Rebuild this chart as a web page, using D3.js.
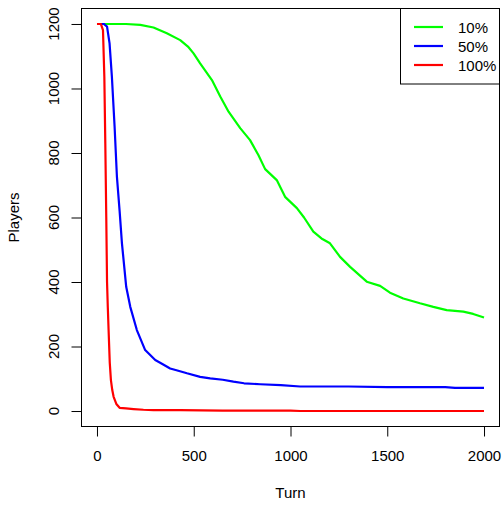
<!DOCTYPE html>
<html>
<head>
<meta charset="utf-8">
<script src="https://cdn.jsdelivr.net/npm/d3@7"></script>
<style>
  body { margin: 0; background: #fff; }
  svg text { font-family: "Liberation Sans", Arial, sans-serif; fill: #000; }
</style>
</head>
<body>
<svg id="chart" width="502" height="508"></svg>
<script>
// data: [turn, players]
var green10 = [[0,1200],[150,1200],[224,1197],[292,1189],[361,1171],[430,1150],[470,1130],[499,1109],[533,1078],[594,1026],[637,975],[680,928],[740,877],[791,840],[834,794],[869,750],[929,716],[972,664],[1033,629],[1070,600],[1118,556],[1160,535],[1204,520],[1256,478],[1308,447],[1394,401],[1463,388],[1514,367],[1583,349],[1669,334],[1738,323],[1807,313],[1893,308],[1944,301],[2000,290]];
var blue50 = [[0,1200],[35,1200],[52,1192],[65,1140],[77,1037],[91,882],[103,727],[117,620],[129,520],[151,385],[172,323],[206,251],[249,189],[301,158],[340,145],[378,132],[420,125],[465,117],[533,106],[585,101],[650,97],[705,91],[760,86],[843,83],[950,80],[1050,76],[1300,76],[1500,74],[1800,74],[1850,72],[2000,72]];
var red100 = [[0,1200],[20,1200],[31,1181],[38,1037],[43,830],[48,600],[52,400],[56,320],[60,251],[66,150],[72,96],[79,65],[86,44],[100,22],[117,10],[150,8],[189,6],[240,4],[292,3],[430,3],[650,1],[1000,1],[1050,0],[2000,0]];
var xTicks = [0, 500, 1000, 1500, 2000];
var yTicks = [0, 200, 400, 600, 800, 1000, 1200];
var seriesNames = ["10%", "50%", "100%"];
var seriesColors = ["#00ff00", "#0000ff", "#ff0000"];

var svg = d3.select("#chart");
var pLeft = 81.5, pRight = 499.5, pTop = 8.5, pBottom = 426.5;

// R style 4% padding on the ranges
var x = d3.scaleLinear().domain([-80, 2080]).range([pLeft, pRight]);
var y = d3.scaleLinear().domain([-48, 1248]).range([pBottom, pTop]);

var line = d3.line().x(function (d) { return x(d[0]); }).y(function (d) { return y(d[1]); });

[green10, blue50, red100].forEach(function (s, i) {
    svg.append("path").datum(s).attr("d", line)
        .attr("fill", "none").attr("stroke", seriesColors[i])
        .attr("stroke-width", 2.2).attr("stroke-linejoin", "round");
});

// box
svg.append("rect").attr("x", pLeft).attr("y", pTop)
    .attr("width", pRight - pLeft).attr("height", pBottom - pTop)
    .attr("fill", "none").attr("stroke", "#000").attr("stroke-width", 1);

// axes
var xAxis = d3.axisBottom(x).tickValues(xTicks).tickSize(10).tickPadding(14).tickFormat(d3.format("d"));
var gx = svg.append("g").attr("transform", "translate(0," + pBottom + ")").call(xAxis);
gx.select(".domain").attr("d", "M" + x(0) + ",0H" + x(2000)).attr("stroke", "#000");
gx.selectAll("line").attr("stroke", "#000");
gx.selectAll("text").attr("font-size", 15).attr("fill", "#000").attr("font-family", null);

var yAxis = d3.axisLeft(y).tickValues(yTicks).tickSize(10).tickFormat("");
var gy = svg.append("g").attr("transform", "translate(" + pLeft + ",0)").call(yAxis);
gy.select(".domain").attr("d", "M0," + y(0) + "V" + y(1200)).attr("stroke", "#000");
gy.selectAll("line").attr("stroke", "#000");

svg.selectAll(".ylab").data(yTicks).enter().append("text")
    .attr("transform", function (d) { return "translate(59," + y(d) + ") rotate(-90)"; })
    .attr("text-anchor", "middle").attr("font-size", 15)
    .text(function (d) { return d; });

// axis titles
svg.append("text").attr("x", (pLeft + pRight) / 2).attr("y", 498)
    .attr("text-anchor", "middle").attr("font-size", 15).text("Turn");
svg.append("text").attr("transform", "translate(19," + ((pTop + pBottom) / 2) + ") rotate(-90)")
    .attr("text-anchor", "middle").attr("font-size", 15).text("Players");

// legend
var lg = svg.append("g");
lg.append("rect").attr("x", 400.5).attr("y", pTop).attr("width", 99).attr("height", 75.5)
    .attr("fill", "#fff").attr("stroke", "#000").attr("stroke-width", 1);
seriesNames.forEach(function (n, i) {
    var yy = 27 + i * 19;
    lg.append("line").attr("x1", 414).attr("x2", 443).attr("y1", yy).attr("y2", yy)
        .attr("stroke", seriesColors[i]).attr("stroke-width", 2.2);
    lg.append("text").attr("x", 458).attr("y", yy + 5.5).attr("font-size", 15).text(n);
});
</script>
</body>
</html>
